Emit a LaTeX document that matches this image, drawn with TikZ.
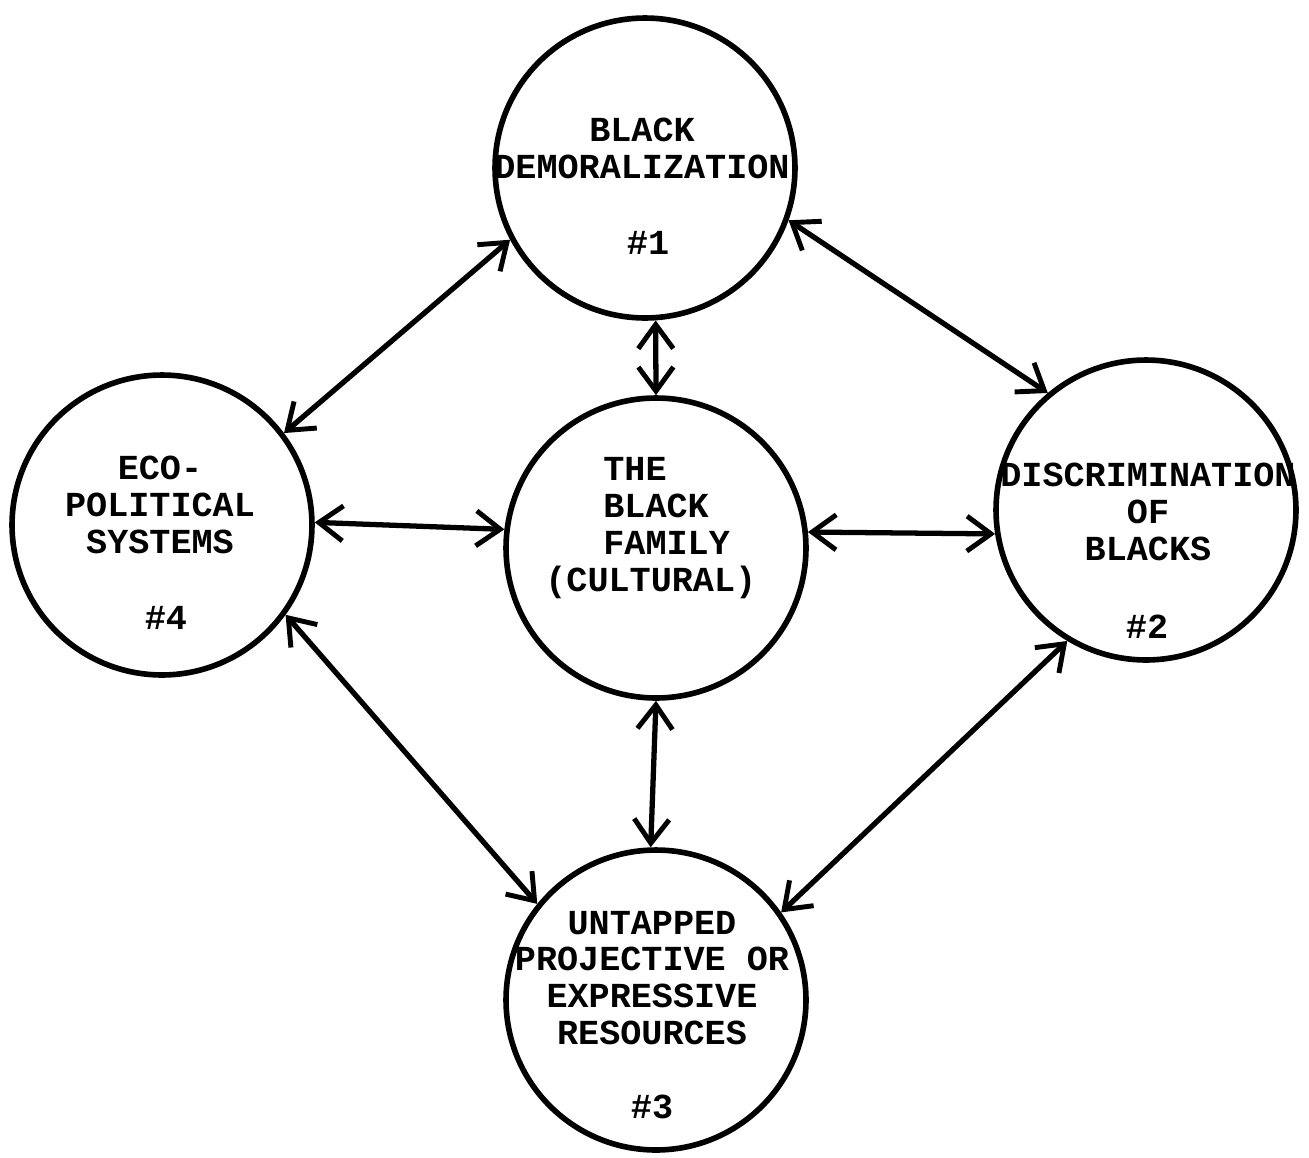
\documentclass[tikz,border=0pt]{standalone}
\usepackage{fontspec}
\newfontfamily\tw{Liberation Mono}
\usetikzlibrary{arrows.meta}
\begin{document}
\begin{tikzpicture}[x=0.02cm,y=-0.02cm,
  circ/.style={circle,draw,line width=3.2pt,minimum size=6cm,inner sep=0pt},
  txt/.style={font=\tw\bfseries\fontsize{20}{21}\selectfont,align=center,inner sep=0pt},
  barb/.style={Straight Barb[length=0.48cm,width=0.7cm,line width=2.8pt]},
  link/.style={line width=3pt,{Straight Barb[length=0.48cm,width=0.7cm,line width=2.8pt]}-{Straight Barb[length=0.48cm,width=0.7cm,line width=2.8pt]}}]
\useasboundingbox (0,0) rectangle (1309,1157);
\node[circ] (c1) at (645,168) {};
\node[circ] (c0) at (656,548) {};
\node[circ] (c4) at (162,525) {};
\node[circ] (c2) at (1146,510) {};
\node[circ] (c3) at (656,1000) {};
% texts
\node[txt] (t1) at (642,148) {BLACK\\DEMORALIZATION};
\node[txt] (n1) at (648,243) {\#1};
\node[txt] (t4) at (160,505) {ECO-\\POLITICAL\\SYSTEMS};
\node[txt] (n4) at (166,618) {\#4};
\node[txt,align=left,anchor=west] (t0) at (545,528) {\hspace{1.16cm}THE\\\hspace{1.16cm}BLACK\\\hspace{1.16cm}FAMILY\\(CULTURAL)};
\node[txt] (t2) at (1148,512) {DISCRIMINATION\\OF\\BLACKS};
\node[txt] (n2) at (1147,627) {\#2};
\node[txt] (t3) at (652,978) {UNTAPPED\\PROJECTIVE OR\\EXPRESSIVE\\RESOURCES};
\node[txt] (n3) at (652,1107) {\#3};
% connectors
\draw[link] (c4.37) -- (c1.208);
\draw[link] (c1.-20) -- (c2.130);
\draw[link] (c1.-86) -- (c0.north);
\draw[link] (c4.1) -- (c0.173);
\draw[link] (c0.6) -- (c2.189);
\draw[link] (c4.-36) -- (c3.141);
\draw[link] (c0.-90) -- (c3.92);
\draw[link] (c2.239) -- (c3.35);
\end{tikzpicture}
\end{document}
